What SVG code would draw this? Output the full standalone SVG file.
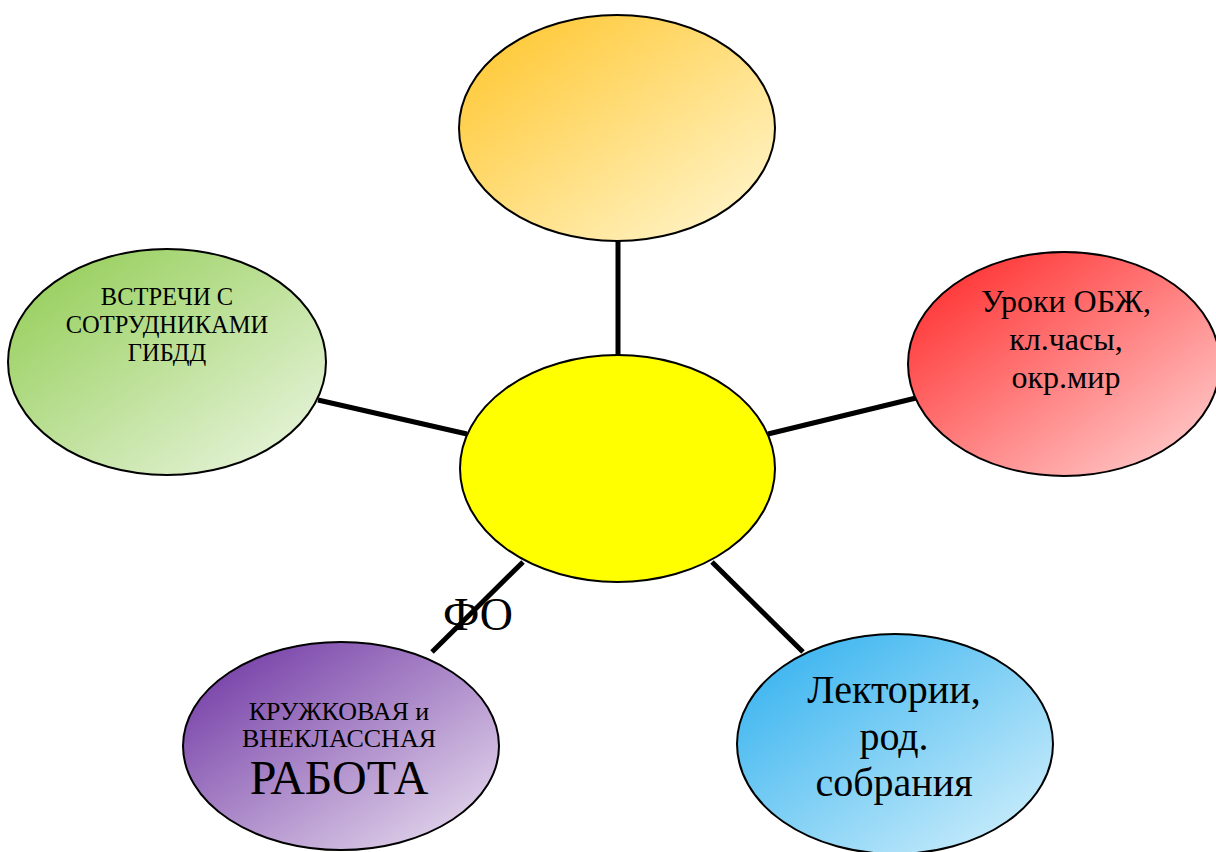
<svg xmlns="http://www.w3.org/2000/svg" width="1216" height="852" viewBox="0 0 1216 852">
<defs>
<linearGradient id="gOrange" x1="0" y1="0" x2="1" y2="1"><stop offset="0" stop-color="#FFC426"/><stop offset="1" stop-color="#FFF8D6"/></linearGradient>
<linearGradient id="gGreen" x1="0" y1="0" x2="1" y2="1"><stop offset="0" stop-color="#8ECB4E"/><stop offset="1" stop-color="#EEF7E6"/></linearGradient>
<linearGradient id="gRed" x1="0" y1="0" x2="1" y2="1"><stop offset="0" stop-color="#FF2222"/><stop offset="1" stop-color="#FFD8D8"/></linearGradient>
<linearGradient id="gPurple" x1="0" y1="0" x2="1" y2="1"><stop offset="0" stop-color="#6A2FA0"/><stop offset="1" stop-color="#EDE4F2"/></linearGradient>
<linearGradient id="gBlue" x1="0" y1="0" x2="1" y2="1"><stop offset="0" stop-color="#2AAEEE"/><stop offset="1" stop-color="#D8F2FC"/></linearGradient>
</defs>
<style>
.node{stroke:#000;stroke-width:2}
.conn{stroke:#000;stroke-width:5;fill:none}
text{font-family:"Liberation Serif","Times New Roman",serif;fill:#000;text-anchor:middle}
</style>
<rect width="1216" height="852" fill="#fff"/>
<g id="connectors">
<line class="conn" x1="618" y1="240" x2="618" y2="356"/>
<line class="conn" x1="318" y1="400" x2="467" y2="434"/>
<line class="conn" x1="768" y1="434" x2="916" y2="398"/>
<line class="conn" x1="523" y1="562" x2="432" y2="652"/>
<line class="conn" x1="712" y1="562" x2="803" y2="652"/>
</g>
<g id="node-top"><ellipse class="node" cx="617" cy="128" rx="158" ry="113" fill="url(#gOrange)"/></g>
<g id="node-center"><ellipse class="node" cx="617.5" cy="468.5" rx="157.5" ry="113.5" fill="#FFFF00"/></g>
<g id="node-green"><ellipse class="node" cx="167" cy="362" rx="159" ry="113" fill="url(#gGreen)"/>
<text font-size="24.5"><tspan x="167" y="305">ВСТРЕЧИ С</tspan><tspan x="167" y="333">СОТРУДНИКАМИ</tspan><tspan x="167" y="361">ГИБДД</tspan></text></g>
<g id="node-red"><ellipse class="node" cx="1064" cy="364" rx="156" ry="112" fill="url(#gRed)"/>
<text font-size="32"><tspan x="1066" y="312">Уроки ОБЖ,</tspan><tspan x="1066" y="350">кл.часы,</tspan><tspan x="1066" y="388">окр.мир</tspan></text></g>
<g id="node-purple"><ellipse class="node" cx="341" cy="746" rx="158" ry="104" fill="url(#gPurple)"/>
<text font-size="26"><tspan x="339" y="720">КРУЖКОВАЯ и</tspan><tspan x="339" y="747">ВНЕКЛАССНАЯ</tspan></text>
<text font-size="48" x="339" y="794">РАБОТА</text></g>
<g id="node-blue"><ellipse class="node" cx="895" cy="744" rx="158" ry="110" fill="url(#gBlue)"/>
<text font-size="40"><tspan x="894" y="703">Лектории,</tspan><tspan x="894" y="750">род.</tspan><tspan x="894" y="796">собрания</tspan></text></g>
<text font-size="46" x="478" y="630">ФО</text>
</svg>
